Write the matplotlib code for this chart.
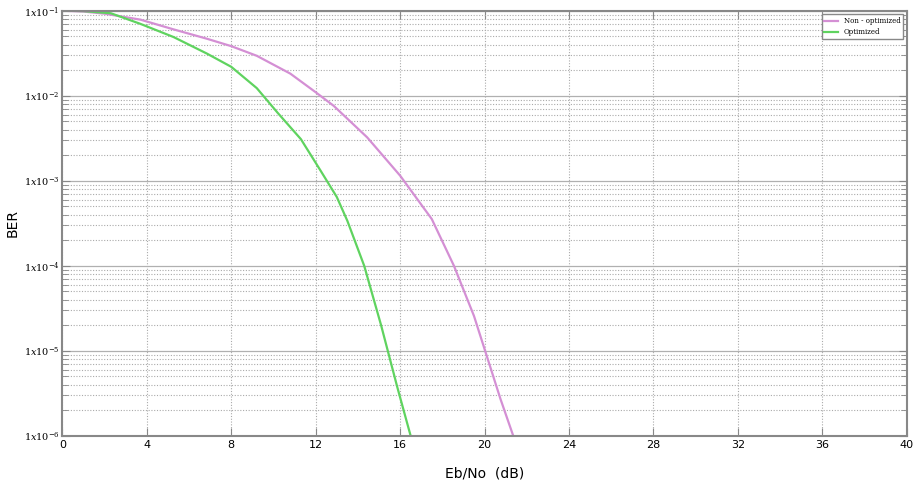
import matplotlib.pyplot as plt
import numpy as np

# Eb/No (dB) and BER
ebno_opt = [0, 1, 2.3, 3.7, 5.27, 6.85, 8, 9.21, 10.2, 11.3, 12.23, 13.0, 13.5,
            14.3, 15.1, 15.86, 16.5]
ber_opt = [0.1, 0.0989, 0.0933, 0.070, 0.049, 0.0313, 0.0219, 0.0123, 0.0063,
           0.00309, 0.00132, 6.46e-4, 3.39e-4, 1.0e-4, 2.0e-5, 3.8e-6, 1.0e-6]

ebno_non = [0, 1, 2, 3.7, 5.27, 6.85, 8, 9.21, 10.8, 12, 12.86, 14.44, 16, 17.5,
            18.55, 19.5, 20, 20.76, 21.36]
ber_non = [0.1, 0.0977, 0.0923, 0.0785, 0.0603, 0.0468, 0.0383, 0.0295, 0.0182,
           0.011, 0.00759, 0.00324, 0.00115, 3.55e-4, 1.0e-4, 2.57e-5, 1.05e-5,
           2.69e-6, 1.0e-6]

xticks = np.arange(0, 41, 4)
yticks = [1e-6, 1e-5, 1e-4, 1e-3, 1e-2, 1e-1]
ylabels = [r'$1x10^{-6}$', r'$1x10^{-5}$', r'$1x10^{-4}$', r'$1x10^{-3}$', r'$1x10^{-2}$', r'$1x10^{-1}$']

plt.rcParams['mathtext.fontset'] = 'dejavuserif'

fig, ax = plt.subplots(figsize=(9.16, 4.86), dpi=100)
fig.subplots_adjust(left=0.068, right=0.99, top=0.978, bottom=0.103)

ax.plot(ebno_non, ber_non, color='#d48fd4', lw=1.6, label='Non - optimized')
ax.plot(ebno_opt, ber_opt, color='#5fd35f', lw=1.6, label='Optimized')

ax.set_yscale('log')
ax.set_xlim(0, 40)
ax.set_ylim(1e-6, 1e-1)
ax.set_xticks(xticks)
ax.set_yticks(yticks)
ax.set_yticklabels(ylabels)
ax.tick_params(axis='y', which='major', labelsize=7, pad=2, direction='in', length=6, right=True, color='#888888')
ax.tick_params(axis='y', which='minor', direction='in', length=4, right=True, color='#888888')
ax.tick_params(axis='x', which='major', labelsize=8, pad=3, direction='in', length=6, top=True, color='#888888')
ax.grid(True, which='major', axis='y', color='#b0b0b0', lw=0.9, ls='-')
ax.grid(True, which='minor', axis='y', color='#aaaaaa', lw=0.8, ls=(0, (1, 1.5)))
ax.grid(True, which='major', axis='x', color='#aaaaaa', lw=0.8, ls=(0, (1, 1.5)))
for s in ax.spines.values():
    s.set_color('#888888')
    s.set_linewidth(1.5)

ax.set_xlabel('Eb/No  (dB)', fontsize=10, labelpad=12)
ax.set_ylabel('BER', fontsize=10, labelpad=3)
leg = ax.legend(loc='upper right', prop={'family': 'serif', 'size': 5},
                fancybox=False, edgecolor='#888888', framealpha=1)

plt.savefig('out.png', dpi=100)
